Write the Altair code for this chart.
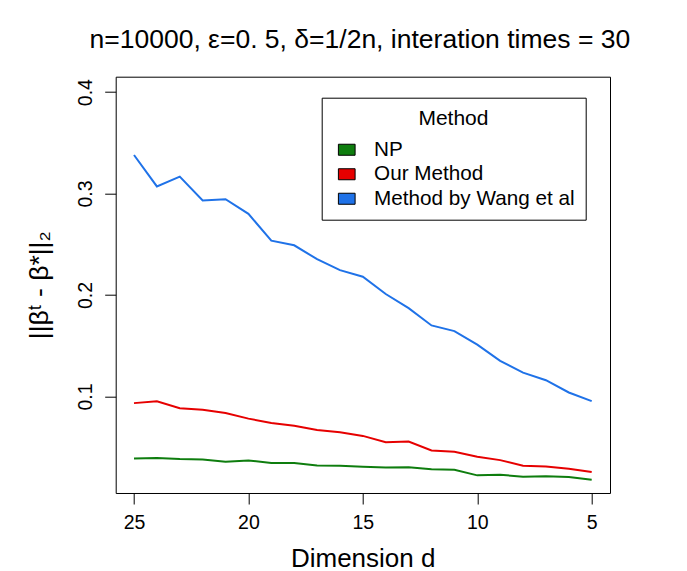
import altair as alt
import pandas as pd

dims = [25, 24, 23, 22, 21, 20, 19, 18, 17, 16, 15, 14, 13, 12, 11, 10, 9, 8, 7, 6, 5]
np_vals = [0.0388, 0.0392, 0.0382, 0.0379, 0.0356, 0.0369, 0.0343, 0.0343, 0.0320,
           0.0317, 0.0307, 0.0300, 0.0303, 0.0281, 0.0277, 0.0222, 0.0228, 0.0209,
           0.0213, 0.0205, 0.0179]
our_vals = [0.0934, 0.0953, 0.0883, 0.0869, 0.0836, 0.0781, 0.0738, 0.0712, 0.0669,
            0.0647, 0.0611, 0.0549, 0.0555, 0.0467, 0.0454, 0.0405, 0.0372, 0.0317,
            0.0310, 0.0287, 0.0254]
wang_vals = [0.338, 0.307, 0.3167, 0.2931, 0.2944, 0.280, 0.2536, 0.249, 0.2353,
             0.2245, 0.218, 0.201, 0.187, 0.170, 0.1644, 0.151, 0.135, 0.1235,
             0.116, 0.1039, 0.0954]
methods = ["NP", "Our Method", "Method by Wang et al"]
colors = ["#0E7D0E", "#E60000", "#1F72E8"]
x_ticks = [25, 20, 15, 10, 5]
y_ticks = [0.1, 0.2, 0.3, 0.4]

rows = []
for m, vals in zip(methods, [np_vals, our_vals, wang_vals]):
    for d, v in zip(dims, vals):
        rows.append({"d": d, "err": v, "method": m})
df = pd.DataFrame(rows)

FONT = "Liberation Sans"
RECT = "M-1,-0.66H1V0.66H-1Z"

x_enc = alt.X("d:Q",
              scale=alt.Scale(domain=[4.2, 25.8], reverse=True, nice=False, zero=False),
              axis=alt.Axis(values=x_ticks, title="Dimension d", grid=False, domain=False,
                            tickSize=11, tickColor="black", tickWidth=1,
                            labelFontSize=19.5, labelFont=FONT, labelColor="black",
                            labelBaseline="alphabetic", labelPadding=24, labelFlush=False,
                            titleFontSize=26, titleFont=FONT, titleFontWeight="normal",
                            titleColor="black", titleBaseline="alphabetic",
                            titleY=73, titleX=247, titleAlign="center"))
y_enc = alt.Y("err:Q",
              scale=alt.Scale(domain=[0.0048, 0.4152], nice=False, zero=False),
              axis=alt.Axis(values=y_ticks, format=".1f", title="||βᵗ - β*||₂", grid=False,
                            domain=False, tickSize=11, tickColor="black", tickWidth=1,
                            labelFontSize=19.5, labelFont=FONT, labelColor="black",
                            labelAngle=-90, labelAlign="center", labelBaseline="alphabetic",
                            labelPadding=13, labelFlush=False,
                            titleFontSize=26.5, titleFont=FONT, titleFontWeight="normal",
                            titleColor="black", titleAngle=-90, titleBaseline="alphabetic",
                            titleAlign="center", titleX=-68, titleY=208))

lines = alt.Chart(df).mark_line(strokeWidth=2).encode(
    x=x_enc,
    y=y_enc,
    stroke=alt.Stroke("method:N", sort=methods, scale=alt.Scale(range=colors), legend=None),
    detail="method:N",
)

legend_layer = alt.Chart(df).mark_point(
    filled=True, opacity=1, stroke="black", strokeWidth=1, size=0, shape=RECT
).encode(
    x="d:Q",
    y="err:Q",
    fill=alt.Fill("method:N", scale=alt.Scale(domain=methods, range=colors),
                  legend=alt.Legend(title="Method", orient="none", legendX=206, legendY=21,
                                    strokeColor="black", fillColor="white", padding=10.7,
                                    titleFont=FONT, titleFontSize=21, titleFontWeight="normal",
                                    titleColor="black", titleAnchor="middle", titleAlign="center",
                                    titlePadding=10,
                                    labelFont=FONT, labelFontSize=20.7, labelColor="black",
                                    labelLimit=400,
                                    labelOffset=17, symbolOffset=4,
                                    symbolType=RECT, symbolSize=279,
                                    symbolStrokeColor="black", symbolStrokeWidth=1,
                                    symbolOpacity=1, rowPadding=2.5)),
)

chart = alt.layer(lines, legend_layer).resolve_legend(fill="independent", stroke="independent").properties(
    width=494.3,
    height=416.3,
    title=alt.Title("n=10000, ε=0. 5, δ=1/2n, interation times = 30", fontSize=26.5,
                    font=FONT, fontWeight="normal", color="black", anchor="middle",
                    baseline="alphabetic", offset=2, dx=-3),
    padding={"left": 107.7, "top": 68.7, "right": 60, "bottom": 78},
    autosize=alt.AutoSizeParams(type="none"),
).configure_view(stroke="black", strokeWidth=1)

chart.save("out.html", embed_options={"renderer": "svg", "actions": False})
